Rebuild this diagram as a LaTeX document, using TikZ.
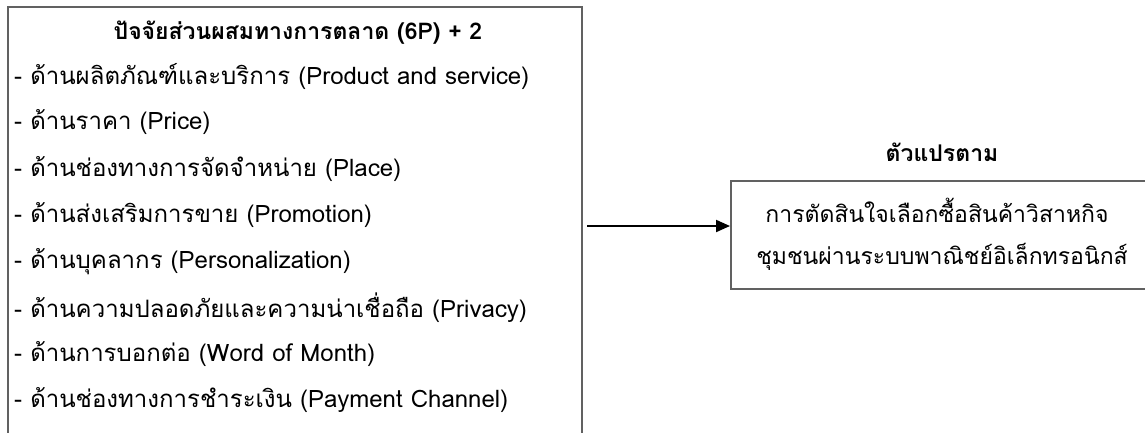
\documentclass[tikz,border=0pt]{standalone}
\usepackage{fontspec}
\newfontfamily\thaifont[Script=Thai]{Loma}
\usetikzlibrary{arrows.meta}
\tikzset{
  box/.style={draw=black!62, line width=1.8pt, inner sep=0pt, anchor=north west},
  itemtxt/.style={font=\thaifont\fontsize{24}{28}\selectfont, anchor=west, inner sep=0pt},
  titletxt/.style={font=\thaifont\bfseries\fontsize{23}{27}\selectfont, inner sep=0pt},
  rtxt/.style={font=\thaifont\fontsize{23}{27}\selectfont, inner sep=0pt},
  conn/.style={line width=2pt, -{Triangle[length=14pt,width=12pt]}}
}
\begin{document}
\begin{tikzpicture}[x=1pt,y=-1pt]
\useasboundingbox (0,0) rectangle (1145,432);
\clip (0,0) rectangle (1145,432);
\fill[white] (0,0) rectangle (1145,432);
\node[box, minimum width=574pt, minimum height=460pt] (leftbox) at (7,6) {};
\node[titletxt] (ltitle) at (298,33) {ปัจจัยส่วนผสมทางการตลาด (6P) + 2};
\node[itemtxt] (i1) at (14,76) {- ด้านผลิตภัณฑ์และบริการ (Product and service)};
\node[itemtxt] (i2) at (14,122.3) {- ด้านราคา (Price)};
\node[itemtxt] (i3) at (14,168.6) {- ด้านช่องทางการจัดจำหน่าย (Place)};
\node[itemtxt] (i4) at (14,214.9) {- ด้านส่งเสริมการขาย (Promotion)};
\node[itemtxt] (i5) at (14,261.2) {- ด้านบุคลากร (Personalization)};
\node[itemtxt] (i6) at (14,307.5) {- ด้านความปลอดภัยและความน่าเชื่อถือ (Privacy)};
\node[itemtxt] (i7) at (14,353.8) {- ด้านการบอกต่อ (Word of Month)};
\node[itemtxt] (i8) at (14,400.1) {- ด้านช่องทางการชำระเงิน (Payment Channel)};
\node[box, minimum width=440pt, minimum height=108pt] (rightbox) at (730,180) {};
\node[titletxt] (rtitle) at (942,152) {ตัวแปรตาม};
\node[rtxt] (r1) at (937,210) {การตัดสินใจเลือกซื้อสินค้าวิสาหกิจ};
\node[rtxt] (r2) at (942,257) {ชุมชนผ่านระบบพาณิชย์อิเล็กทรอนิกส์};
\coordinate (astart) at (587,226);
\draw[conn] (astart) -- (astart -| rightbox.west);
\end{tikzpicture}
\end{document}
